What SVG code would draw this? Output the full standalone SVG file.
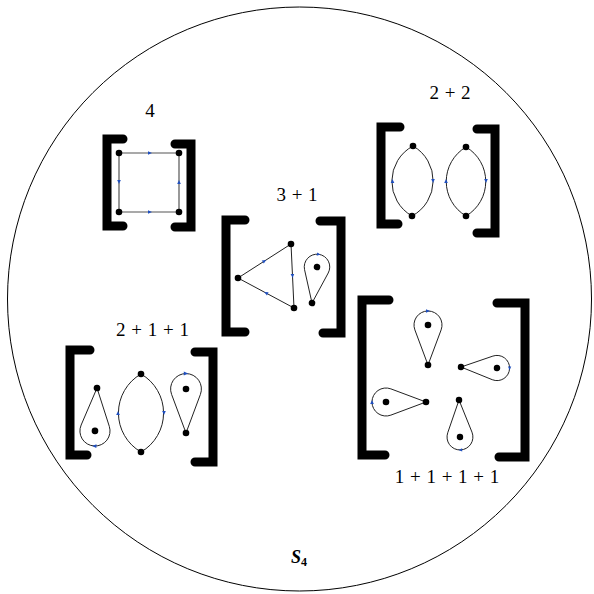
<svg xmlns="http://www.w3.org/2000/svg" xmlns:xlink="http://www.w3.org/1999/xlink" width="594" height="594" viewBox="0 0 594 594">
<style>
.br{fill:none;stroke:#000;stroke-width:9;stroke-linecap:round;stroke-linejoin:miter}
.ed{fill:none;stroke:#222;stroke-width:1}
.sq{fill:none;stroke:#555;stroke-width:1.2}
.nd{fill:#000}
.bm{fill:#1f4fbf}
.lb{font-family:"Liberation Serif","DejaVu Serif",serif;font-size:19px;text-anchor:middle;word-spacing:1px;fill:#000}
</style>
<defs>
<path id="drop" d="M0,0 L13.11,-35.10 A14 14 0 1 0 -13.11,-35.10 Z" fill="none" stroke="#222" stroke-width="1" vector-effect="non-scaling-stroke"/>
<path id="tri" d="M-2,-1.8 L2,0 L-2,1.8 Z"/>
</defs>
<circle cx="299.5" cy="299" r="292" fill="none" stroke="#000" stroke-width="1"/>

<g id="node-4">
<text class="lb" x="150" y="117">4</text>
<path class="br" d="M123,139 H107 V226 H123"/>
<path class="br" d="M175,144 H191 V227 H175"/>
<path class="sq" d="M119,153 H179 V212 H119 Z"/>
<use href="#tri" class="bm" transform="translate(150,153)"/>
<use href="#tri" class="bm" transform="translate(150,212)"/>
<use href="#tri" class="bm" transform="translate(119,182) rotate(90)"/>
<use href="#tri" class="bm" transform="translate(179,182) rotate(-90)"/>
<circle class="nd" cx="119" cy="153" r="3.3"/>
<circle class="nd" cx="179" cy="153" r="3.3"/>
<circle class="nd" cx="119" cy="212" r="3.3"/>
<circle class="nd" cx="179" cy="212" r="3.3"/>
</g>

<g id="node-2-2">
<text class="lb" x="450" y="99">2 + 2</text>
<path class="br" d="M400,127 H381 V224 H398"/>
<path class="br" d="M477,129 H495 V233 H477"/>
<path class="ed" d="M413,146 A40 40 0 0 0 412,216 A40 40 0 0 0 413,146 Z"/>
<path class="ed" d="M466,147 A40 40 0 0 0 466,216 A40 40 0 0 0 466,147 Z"/>
<use href="#tri" class="bm" transform="translate(392.5,181) rotate(-90)"/>
<use href="#tri" class="bm" transform="translate(433,181) rotate(90)"/>
<use href="#tri" class="bm" transform="translate(446,181) rotate(-90)"/>
<use href="#tri" class="bm" transform="translate(486,181) rotate(90)"/>
<circle class="nd" cx="413" cy="146" r="3.3"/>
<circle class="nd" cx="412" cy="216" r="3.3"/>
<circle class="nd" cx="466" cy="147" r="3.3"/>
<circle class="nd" cx="466" cy="216" r="3.3"/>
</g>

<g id="node-3-1">
<text class="lb" x="297" y="201">3 + 1</text>
<path class="br" d="M245,220 H226 V332 H245"/>
<path class="br" d="M320,221 H341 V333 H323"/>
<path class="ed" d="M238,278 L291,244 L294,308 Z"/>
<use href="#tri" class="bm" transform="translate(264.5,261) rotate(-33)"/>
<use href="#tri" class="bm" transform="translate(292.5,276) rotate(87)"/>
<use href="#tri" class="bm" transform="translate(266,293) rotate(208)"/>
<circle class="nd" cx="238" cy="278" r="3.3"/>
<circle class="nd" cx="291" cy="244" r="3.3"/>
<circle class="nd" cx="294" cy="308" r="3.3"/>
<g transform="translate(312,303) rotate(7.9) scale(0.91)">
<use href="#drop"/><use href="#tri" class="bm" transform="translate(0,-54)"/>
<circle class="nd" cx="0" cy="0" r="3.6"/><circle class="nd" cx="0" cy="-40" r="3.6"/>
</g>
</g>

<g id="node-2-1-1">
<text class="lb" x="152.5" y="336">2 + 1 + 1</text>
<path class="br" d="M90,350 H70 V455 H87"/>
<path class="br" d="M195,352 H213 V462 H195"/>
<g transform="translate(97,388) rotate(-177.3) scale(1.075)">
<use href="#drop"/><use href="#tri" class="bm" transform="translate(0,-54)"/>
<circle class="nd" cx="0" cy="0" r="3.1"/><circle class="nd" cx="0" cy="-40" r="3.1"/>
</g>
<path class="ed" d="M141,374 A45 45 0 0 0 141,452 A45 45 0 0 0 141,374 Z"/>
<use href="#tri" class="bm" transform="translate(118,413) rotate(-90)"/>
<use href="#tri" class="bm" transform="translate(164,413) rotate(90)"/>
<circle class="nd" cx="141" cy="374" r="3.3"/>
<circle class="nd" cx="141" cy="452" r="3.3"/>
<g transform="translate(186,433) scale(1.1)">
<use href="#drop"/><use href="#tri" class="bm" transform="translate(0,-54)"/>
<circle class="nd" cx="0" cy="0" r="3"/><circle class="nd" cx="0" cy="-40" r="3"/>
</g>
</g>

<g id="node-1-1-1-1">
<text class="lb" x="447" y="483">1 + 1 + 1 + 1</text>
<path class="br" d="M389,300 H362 V455 H385"/>
<path class="br" d="M497,303 H525 V457 H499"/>
<g transform="translate(428,365)">
<use href="#drop"/><use href="#tri" class="bm" transform="translate(0,-54)"/>
<circle class="nd" cx="0" cy="0" r="3.3"/><circle class="nd" cx="0" cy="-40" r="3.3"/>
</g>
<g transform="translate(461,367) rotate(91.6) scale(0.9)">
<use href="#drop"/><use href="#tri" class="bm" transform="translate(0,-54)"/>
<circle class="nd" cx="0" cy="0" r="3.6"/><circle class="nd" cx="0" cy="-40" r="3.6"/>
</g>
<g transform="translate(426,402) rotate(-90)">
<use href="#drop"/><use href="#tri" class="bm" transform="translate(0,-54)"/>
<circle class="nd" cx="0" cy="0" r="3.3"/><circle class="nd" cx="0" cy="-40" r="3.3"/>
</g>
<g transform="translate(459,400) rotate(178.5) scale(0.925)">
<use href="#drop"/><use href="#tri" class="bm" transform="translate(0,-54)"/>
<circle class="nd" cx="0" cy="0" r="3.5"/><circle class="nd" cx="0" cy="-40" r="3.5"/>
</g>
</g>

<text x="291" y="563" font-family="Liberation Serif, DejaVu Serif, serif" font-size="18" font-style="italic" font-weight="bold">S<tspan font-size="12" font-style="normal" dy="3">4</tspan></text>
</svg>
